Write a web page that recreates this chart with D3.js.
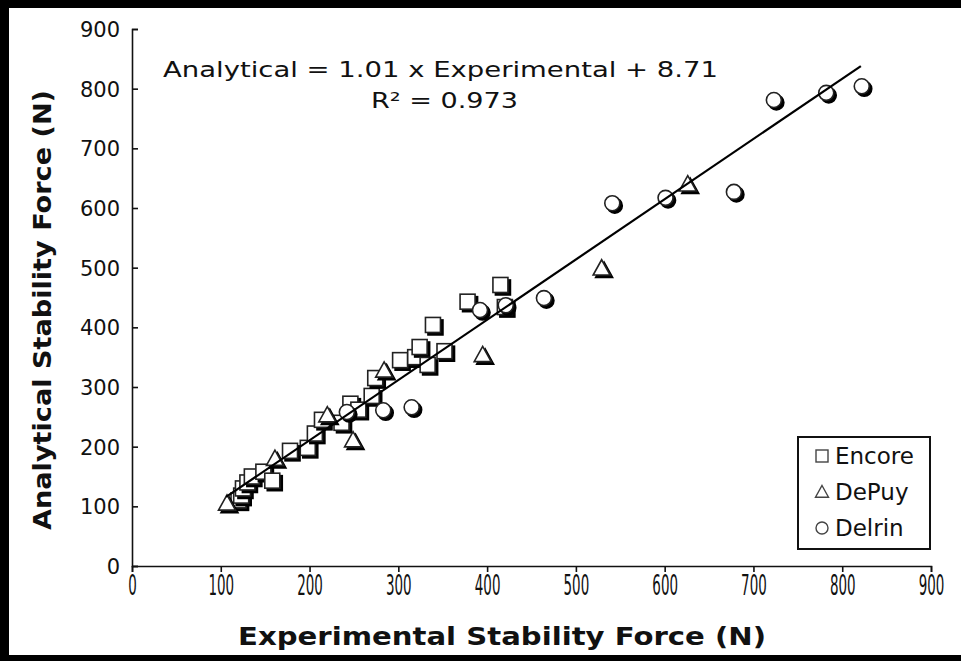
<!DOCTYPE html>
<html><head><meta charset="utf-8">
<script src="https://cdn.jsdelivr.net/npm/d3@7"></script>
<style>
html,body{margin:0;padding:0;background:#fff;}
svg{display:block;font-family:"DejaVu Sans",Verdana,sans-serif;}
</style></head>
<body>
<svg id="chart" width="961" height="661"></svg>
<script>
// ---- data ----
const encoreX = [120,123,125,130,135,148,158,178,198,206,214,236,246,255,270,274,302,319,324,333,339,352,378,415,420];
const encoreY = [110,118,130,140,150,158,143,193,198,222,245,240,272,262,285,315,345,350,367,337,404,360,443,471,434];
const depuyX = [107,161,220,249,284,395,529,626];
const depuyY = [105,180,253,211,328,354,499,640];
const delrinX = [242,283,315,392,421,464,541,601,678,723,782,822];
const delrinY = [258,261,266,429,437,449,608,617,627,781,793,804];
const fitSlope = 1.01, fitIntercept = 8.71, fitRange = [106, 821];
const xTicks = [0,100,200,300,400,500,600,700,800,900];
const yTicks = [0,100,200,300,400,500,600,700,800,900];
const legendLabels = ["Encore","DePuy","Delrin"];
const equationText = "Analytical = 1.01 x Experimental + 8.71";
const r2Text = "R\u00B2 = 0.973";

const svg = d3.select("#chart");
const x = d3.scaleLinear().domain([0,900]).range([132,931]);
const y = d3.scaleLinear().domain([0,900]).range([566,29]);

// frame
svg.append("rect").attr("x",0).attr("y",0).attr("width",961).attr("height",8).attr("fill","#000");
svg.append("rect").attr("x",0).attr("y",0).attr("width",9).attr("height",661).attr("fill","#000");
svg.append("rect").attr("x",0).attr("y",655).attr("width",961).attr("height",6).attr("fill","#000");

// axes
const xAxis = d3.axisBottom(x).tickValues(xTicks).tickSize(6).tickSizeOuter(6).tickFormat(d3.format("d"));
const gx = svg.append("g").attr("transform","translate(0,566)").call(xAxis);
gx.attr("font-size",null).attr("font-family",null);
gx.selectAll("path,line").attr("stroke","#111").attr("stroke-width",1.6);
gx.selectAll("text").attr("fill","#111").attr("y",0).attr("dy",0)
  .attr("font-size",28).style("font-size","28px")
  .attr("transform","translate(0,29) scale(0.48,1)");

const yAxis = d3.axisLeft(y).tickValues(yTicks).tickSize(-6).tickSizeOuter(-6).tickPadding(12).tickFormat(d3.format("d"));
const gy = svg.append("g").attr("transform","translate(132,0)").call(yAxis);
gy.attr("font-size",null).attr("font-family",null);
gy.selectAll("path,line").attr("stroke","#111").attr("stroke-width",1.6);
gy.selectAll("text").attr("fill","#111").style("font-size","21px").attr("dy","0.36em");

// axis titles
svg.append("text").attr("x",502).attr("y",645).attr("text-anchor","middle")
  .style("font-size","25px").attr("font-weight","bold").attr("fill","#111")
  .attr("textLength",528).attr("lengthAdjust","spacingAndGlyphs")
  .text("Experimental Stability Force (N)");
svg.append("text").attr("transform","translate(51,310) rotate(-90)").attr("text-anchor","middle")
  .style("font-size","24px").attr("font-weight","bold").attr("fill","#111")
  .attr("textLength",440).attr("lengthAdjust","spacingAndGlyphs")
  .text("Analytical Stability Force (N)");

// equation
svg.append("text").attr("x",163).attr("y",77).style("font-size","22px").attr("fill","#111")
  .attr("textLength",555).attr("lengthAdjust","spacingAndGlyphs").text(equationText);
svg.append("text").attr("x",371).attr("y",108).style("font-size","22px").attr("fill","#111")
  .attr("textLength",147).attr("lengthAdjust","spacingAndGlyphs").text(r2Text);

// markers
const sq = 7.5, cr = 7.5, tr = 8.5;
function triPath(cx,cy,s){ return `M${cx},${cy-s}L${cx+s},${cy+s*0.8}L${cx-s},${cy+s*0.8}Z`; }
function drawSeries(xs, ys, kind){
  const g = svg.append("g");
  const pts = xs.map((v,i)=>({x:v,y:ys[i]}));
  pts.forEach(p=>{
    const cx = x(p.x), cy = y(p.y);
    const draw = (ox,oy,fill,stroke)=>{
      let el;
      if(kind==="sq") el = g.append("rect").attr("x",cx-sq+ox).attr("y",cy-sq+oy).attr("width",2*sq).attr("height",2*sq);
      else if(kind==="ci") el = g.append("circle").attr("cx",cx+ox).attr("cy",cy+oy).attr("r",cr);
      else el = g.append("path").attr("d",triPath(cx+ox,cy+oy,tr));
      el.attr("fill",fill).attr("stroke",stroke).attr("stroke-width",1.6);
    };
    draw(2.5,2.5,"#000","#000");
    draw(0,0,"#fff","#222");
  });
}
drawSeries(encoreX, encoreY, "sq");
drawSeries(depuyX, depuyY, "tr");
drawSeries(delrinX, delrinY, "ci");

// fit line (on top of markers)
svg.append("line")
  .attr("x1",x(fitRange[0])).attr("y1",y(fitSlope*fitRange[0]+fitIntercept))
  .attr("x2",x(fitRange[1])).attr("y2",y(fitSlope*fitRange[1]+fitIntercept))
  .attr("stroke","#000").attr("stroke-width",2.2);

// legend
const lg = svg.append("g");
lg.append("rect").attr("x",798).attr("y",437).attr("width",132).attr("height",112)
  .attr("fill","#fff").attr("stroke","#111").attr("stroke-width",2);
const kinds = ["sq","tr","ci"];
const sym = lg.append("g");
legendLabels.forEach((lab,i)=>{
  const cy = 456 + i*36, cx = 822;
  if(kinds[i]==="sq") sym.append("rect").attr("x",cx-6).attr("y",cy-6).attr("width",12).attr("height",12);
  else if(kinds[i]==="tr") sym.append("path").attr("d",triPath(cx,cy,6.5));
  else sym.append("circle").attr("cx",cx).attr("cy",cy).attr("r",6);
  lg.append("text").attr("x",835).attr("y",cy+8).style("font-size","23px").attr("fill","#111").text(lab);
});
sym.selectAll("*").attr("fill","#fff").attr("stroke","#444").attr("stroke-width",1.4);
</script>
</body></html>
